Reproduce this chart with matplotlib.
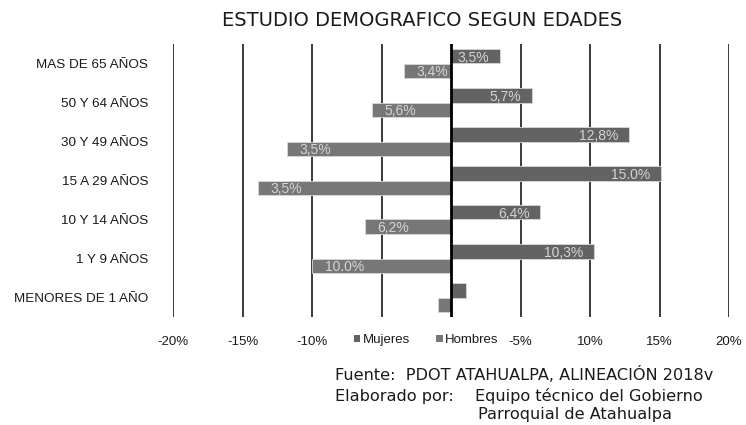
import matplotlib
matplotlib.use("Agg")
import matplotlib.pyplot as plt
from matplotlib.patches import Patch

categories = ["MAS DE 65 AÑOS", "50 Y 64 AÑOS", "30 Y 49 AÑOS", "15 A 29 AÑOS",
              "10 Y 14 AÑOS", "1 Y 9 AÑOS", "MENORES DE 1 AÑO"]
mujeres = [3.5, 5.8, 12.8, 15.1, 6.4, 10.3, 1.1]
hombres = [-3.4, -5.7, -11.8, -13.9, -6.2, -10.0, -0.9]
mujeres_labels = ["3,5%", "5,7%", "12,8%", "15.0%", "6,4%", "10,3%", ""]
hombres_labels = ["3,4%", "5,6%", "3,5%", "3,5%", "6,2%", "10.0%", ""]
tick_values = [-20, -15, -10, 5, 10, 15, 20]
tick_labels = ["-20%", "-15%", "-10%", "-5%", "10%", "15%", "20%"]

plt.rcParams['font.family'] = ['Liberation Sans', 'DejaVu Sans']

W, H = 746, 425
fig = plt.figure(figsize=(W / 100, H / 100), dpi=100)
ax = fig.add_axes([173 / W, 1 - 317 / H, (729 - 173) / W, (317 - 44) / H])

c_muj = "#636363"
c_hom = "#777777"
bh = 0.37
n = len(categories)
ys = list(range(n))
for i in ys:
    ax.barh(i - bh / 2, mujeres[i], height=bh, color=c_muj, edgecolor="#d8d8d8",
            linewidth=0.6, zorder=3)
    ax.barh(i + bh / 2, hombres[i], height=bh, color=c_hom, edgecolor="#d8d8d8",
            linewidth=0.6, zorder=3)
    if mujeres_labels[i]:
        ax.text(mujeres[i] - 0.75, i - bh / 2 + 0.04, mujeres_labels[i], ha="right",
                va="center", color="#d4d4d4", fontsize=10, zorder=4)
    if hombres_labels[i]:
        ax.text(hombres[i] + 0.9, i + bh / 2 + 0.04, hombres_labels[i], ha="left",
                va="center", color="#d4d4d4", fontsize=10, zorder=4)

ax.set_xlim(-20, 20)
ax.set_ylim(n - 0.5, -0.5)
for x in range(-20, 25, 5):
    if x == 0:
        ax.axvline(x, color="#000000", linewidth=2.0, zorder=5)
    else:
        ax.axvline(x, color="#3a3a3a", linewidth=1.4, zorder=1)

for s in ax.spines.values():
    s.set_visible(False)
ax.set_yticks(ys)
ax.set_yticklabels(categories, fontsize=9.7, color="#1a1a1a")
ax.tick_params(axis="y", length=0, pad=18)
ax.set_xticks(tick_values)
ax.set_xticklabels(tick_labels, fontsize=9.5, color="#1a1a1a")
ax.tick_params(axis="x", length=0, pad=14)

fig.text(422 / W, 1 - 20 / H, "ESTUDIO DEMOGRAFICO SEGUN EDADES", ha="center",
         va="center", fontsize=14, color="#1a1a1a", family="DejaVu Sans")

handles = [Patch(facecolor=c_muj, edgecolor="none"), Patch(facecolor=c_hom, edgecolor="none")]
fig.legend(handles, ["Mujeres", "Hombres"], loc="center", bbox_to_anchor=(426 / W, 1 - 340 / H),
           ncol=2, frameon=False, fontsize=9.5, handlelength=0.5, handleheight=0.5,
           handletextpad=0.15, columnspacing=2.0, borderpad=0, labelcolor="#1a1a1a")

ff = "DejaVu Sans"
fs = 11.6
fig.text(335 / W, 1 - 374 / H, "Fuente:  PDOT ATAHUALPA, ALINEACIÓN 2018v", ha="left",
         va="center", fontsize=fs, color="#1a1a1a", family=ff)
fig.text(335 / W, 1 - 396 / H, "Elaborado por:", ha="left", va="center", fontsize=fs,
         color="#1a1a1a", family=ff)
fig.text(475 / W, 1 - 396 / H, "Equipo técnico del Gobierno", ha="left", va="center",
         fontsize=fs, color="#1a1a1a", family=ff)
fig.text(478 / W, 1 - 415 / H, "Parroquial de Atahualpa", ha="left", va="center",
         fontsize=fs, color="#1a1a1a", family=ff)

fig.savefig("out.png", dpi=100)
